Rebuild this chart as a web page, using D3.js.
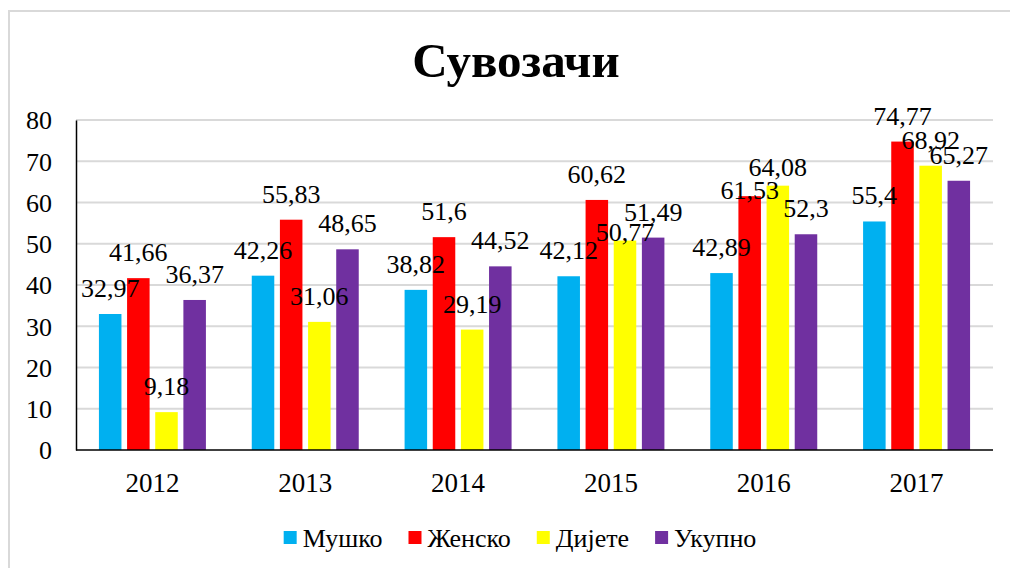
<!DOCTYPE html>
<html>
<head>
<meta charset="utf-8">
<script src="https://cdn.jsdelivr.net/npm/d3@7"></script>
<style>
  html, body { margin: 0; padding: 0; background: #fff; }
  svg { display: block; }
  text { font-family: "Liberation Serif", "Times New Roman", serif; fill: #000; }
</style>
</head>
<body>
<svg id="chart" width="1010" height="568"></svg>
<script>
const title = "Сувозачи";
const years = ["2012", "2013", "2014", "2015", "2016", "2017"];
const seriesNames = ["Мушко", "Женско", "Дијете", "Укупно"];
const seriesColors = ["#00b0f0", "#ff0000", "#ffff00", "#7030a0"];
const musko  = [32.97, 42.26, 38.82, 42.12, 42.89, 55.4];
const zensko = [41.66, 55.83, 51.6, 60.62, 61.53, 74.77];
const dijete = [9.18, 31.06, 29.19, 50.77, 64.08, 68.92];
const ukupno = [36.37, 48.65, 44.52, 51.49, 52.3, 65.27];
const yTicks = [0, 10, 20, 30, 40, 50, 60, 70, 80];

const seriesValues = [musko, zensko, dijete, ukupno];
const fmt = v => String(v).replace(".", ",");

// label nudges (px downward) where the original chart moved labels to reduce overlap
const labelNudge = { "2015|Дијете": 17, "2016|Женско": 20, "2016|Дијете": 7 };

const svg = d3.select("#chart");

// outer chart border
svg.append("path")
  .attr("d", "M9,568 L9,11 L1010,11")
  .attr("fill", "none").attr("stroke", "#d9d9d9").attr("stroke-width", 2);

const plot = { left: 76, right: 993, top: 120, bottom: 450 };

const y = d3.scaleLinear().domain([0, 80]).range([plot.bottom, plot.top]);
const x0 = d3.scaleBand().domain(years).range([plot.left, plot.right])
  .paddingInner(0.3).paddingOuter(0.15);
const x1 = d3.scaleBand().domain(seriesNames).range([0, x0.bandwidth()]).paddingInner(0.2);

// title
svg.append("text")
  .attr("x", 516).attr("y", 77)
  .attr("text-anchor", "middle")
  .attr("font-size", 49).attr("font-weight", "bold")
  .text(title);

// gridlines
svg.append("g").selectAll("line")
  .data(yTicks.filter(t => t > 0))
  .join("line")
  .attr("x1", plot.left).attr("x2", plot.right)
  .attr("y1", d => y(d)).attr("y2", d => y(d))
  .attr("stroke", "#d9d9d9").attr("stroke-width", 2);

// y axis
const yAxis = d3.axisLeft(y).tickValues(yTicks).tickSize(0).tickPadding(24)
  .tickFormat(d => d);
const gy = svg.append("g").attr("transform", `translate(${plot.left},0)`).call(yAxis);
gy.select(".domain").attr("stroke", "#000").attr("stroke-width", 1.5);
gy.selectAll("text").attr("font-size", 26).attr("font-family", "Liberation Serif, serif").attr("dy", "0.34em");

// bars
const groups = svg.append("g").selectAll("g")
  .data(years)
  .join("g")
  .attr("transform", d => `translate(${x0(d)},0)`);

groups.selectAll("rect")
  .data((d, i) => seriesNames.map((s, j) => ({ s, j, v: seriesValues[j][i] })))
  .join("rect")
  .attr("x", d => x1(d.s))
  .attr("width", x1.bandwidth())
  .attr("y", d => y(d.v))
  .attr("height", d => y(0) - y(d.v))
  .attr("fill", d => seriesColors[d.j]);

// x axis
const xAxis = d3.axisBottom(x0).tickSize(0).tickPadding(23);
const gx = svg.append("g").attr("transform", `translate(0,${plot.bottom})`).call(xAxis);
gx.select(".domain").attr("stroke", "#000").attr("stroke-width", 1.5)
  .attr("d", `M${plot.left},0H${plot.right}`);
gx.selectAll("text").attr("font-size", 27).attr("font-family", "Liberation Serif, serif");

// data labels
groups.selectAll("text.lbl")
  .data((d, i) => seriesNames.map((s, j) => ({ s, j, v: seriesValues[j][i], yr: d })))
  .join("text")
  .attr("class", "lbl")
  .attr("x", d => x1(d.s) + x1.bandwidth() / 2)
  .attr("y", d => y(d.v) - 17 + (labelNudge[d.yr + "|" + d.s] || 0))
  .attr("text-anchor", "middle")
  .attr("font-size", 26)
  .text(d => fmt(d.v));

// legend
const legend = svg.append("g");
let lx = 0;
seriesNames.forEach((s, j) => {
  const g = legend.append("g").attr("transform", `translate(${lx},0)`);
  g.append("rect").attr("x", 0).attr("y", -16).attr("width", 13).attr("height", 13)
    .attr("fill", seriesColors[j]);
  const t = g.append("text").attr("x", 19).attr("y", 0).attr("font-size", 26).text(s);
  const w = t.node().getComputedTextLength();
  lx += 19 + w + 26;
});
const totalW = lx - 26;
legend.attr("transform", `translate(${520 - totalW / 2},547)`);
</script>
</body>
</html>
